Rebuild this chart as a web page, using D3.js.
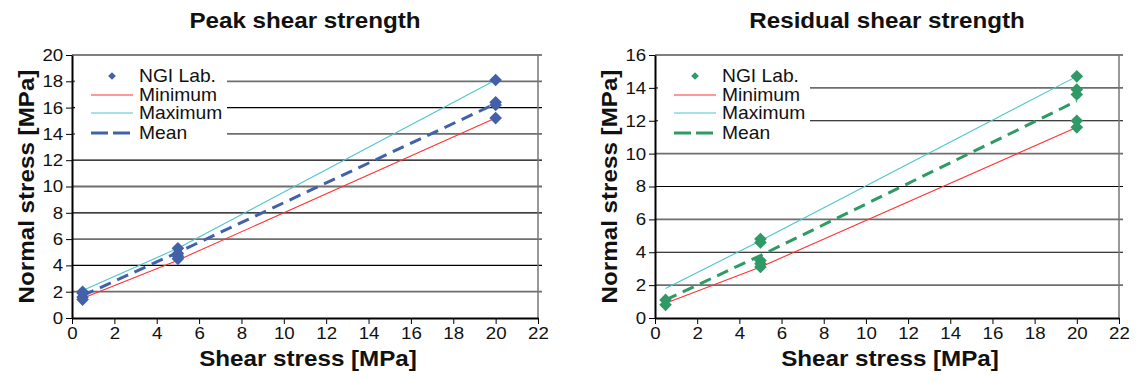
<!DOCTYPE html>
<html>
<head>
<meta charset="utf-8">
<script src="https://cdn.jsdelivr.net/npm/d3@7"></script>
<style>
  body { margin: 0; background: #fff; }
  svg { display: block; font-family: "Liberation Sans", Arial, Helvetica, sans-serif; }
</style>
</head>
<body>
<div id="chart"></div>
<script>
// Shear stress levels used in the tests
const stressLevels = [0.5, 5, 20];

// Peak shear strength
const peakLabX = [0.5, 0.5, 0.5, 0.5, 5, 5, 5, 5, 20, 20, 20, 20];
const peakLabY = [1.4, 1.6, 1.9, 2.0, 4.5, 4.7, 4.9, 5.3, 15.2, 16.2, 16.4, 18.1];
const peakMin = [1.5, 4.4, 15.2];
const peakMax = [2.1, 5.3, 18.1];
const peakMean = [1.7, 5.0, 16.3];

// Residual shear strength
const resLabX = [0.5, 0.5, 5, 5, 5, 5, 5, 20, 20, 20, 20, 20];
const resLabY = [0.8, 1.1, 3.1, 3.3, 3.5, 4.6, 4.8, 11.6, 12.0, 13.6, 13.9, 14.7];
const resMin = [0.9, 3.1, 11.6];
const resMax = [1.8, 4.7, 14.7];
const resMean = [1.1, 3.8, 13.2];

// Tick labels
const xTickValues = [0, 2, 4, 6, 8, 10, 12, 14, 16, 18, 20, 22];
const peakYTicks = [0, 2, 4, 6, 8, 10, 12, 14, 16, 18, 20];
const resYTicks = [0, 2, 4, 6, 8, 10, 12, 14, 16];

const legendLabels = ["NGI Lab.", "Minimum", "Maximum", "Mean"];

const W = 1140, H = 381;
const svg = d3.select("#chart").append("svg")
    .attr("width", W).attr("height", H)
    .attr("viewBox", `0 0 ${W} ${H}`);

// the source lettering is a bit wider than Arial
const wide = "scale(1.1,1)";

// square diamond like the spreadsheet marker
const diamond = {
    draw(ctx, size) {
        const r = Math.sqrt(size / 2);
        ctx.moveTo(0, -r); ctx.lineTo(r, 0); ctx.lineTo(0, r); ctx.lineTo(-r, 0); ctx.closePath();
    }
};

function panel(cfg) {
    const x = d3.scaleLinear().domain([0, 22]).range([cfg.left, cfg.right]);
    const y = d3.scaleLinear().domain([0, cfg.yMax]).range([318, 55]);
    const g = svg.append("g");

    // gridlines
    g.append("g").selectAll("line")
        .data(cfg.yTicks.filter(d => d > 0))
        .join("line")
        .attr("x1", cfg.left).attr("x2", cfg.right + 4)
        .attr("y1", d => y(d)).attr("y2", d => y(d))
        .attr("stroke", (d, i) => i % 2 ? "#000" : "#6e6e6e")
        .attr("stroke-width", (d, i) => i % 2 ? 1.2 : 1.8);

    // right border
    g.append("line")
        .attr("x1", cfg.right).attr("x2", cfg.right)
        .attr("y1", y(cfg.yMax)).attr("y2", y(0))
        .attr("stroke", "#777").attr("stroke-width", 1.5);

    // axes
    const xAxis = g.append("g")
        .attr("transform", `translate(0,${y(0)})`)
        .call(d3.axisBottom(x).tickValues(xTickValues).tickSize(6).tickSizeOuter(0).tickPadding(3));
    const yAxis = g.append("g")
        .attr("transform", `translate(${cfg.left},0)`)
        .call(d3.axisLeft(y).tickValues(cfg.yTicks).tickSize(6).tickSizeOuter(0).tickPadding(2));
    [xAxis, yAxis].forEach(a => {
        a.select(".domain").attr("stroke", "#000").attr("stroke-width", 2);
        a.selectAll(".tick line").attr("stroke", "#000");
        a.selectAll(".tick text").attr("font-size", 17).attr("fill", "#111")
            .attr("transform", wide)
            .attr("font-family", "'Liberation Sans', Arial, sans-serif");
    });

    // lines
    const line = d3.line().x((d, i) => x(stressLevels[i])).y(d => y(d));
    g.append("path").attr("d", line(cfg.min)).attr("fill", "none")
        .attr("stroke", "#ff3333").attr("stroke-width", 1.1);
    g.append("path").attr("d", line(cfg.max)).attr("fill", "none")
        .attr("stroke", "#4cc6cc").attr("stroke-width", 1.1);
    g.append("path").attr("d", line(cfg.mean)).attr("fill", "none")
        .attr("stroke", cfg.color).attr("stroke-width", 3)
        .attr("stroke-dasharray", "12,7");

    // lab points
    g.append("g").selectAll("path")
        .data(cfg.labX.map((d, i) => [d, cfg.labY[i]]))
        .join("path")
        .attr("transform", d => `translate(${x(d[0])},${y(d[1])})`)
        .attr("d", d3.symbol(diamond, 80))
        .attr("fill", cfg.color);

    // legend
    const lg = g.append("g").attr("transform", `translate(${cfg.left + 3},58)`);
    lg.append("rect").attr("width", 152).attr("height", 88).attr("fill", "#fff");
    const rowY = [18, 37, 55, 75];
    legendLabels.forEach((lab, i) => {
        const ry = rowY[i];
        if (i === 0) {
            lg.append("path").attr("transform", `translate(37,${ry})`)
                .attr("d", d3.symbol(diamond, 30)).attr("fill", cfg.color);
        } else {
            lg.append("line").attr("x1", 16).attr("x2", 58).attr("y1", ry).attr("y2", ry)
                .attr("stroke", i === 1 ? "#ff3333" : i === 2 ? "#4cc6cc" : cfg.color)
                .attr("stroke-width", i === 3 ? 3 : 1.1)
                .attr("stroke-dasharray", i === 3 ? "17,5" : null);
        }
        lg.append("text").attr("transform", `translate(64,${ry + 6}) ${wide}`)
            .attr("font-size", 17.5).attr("fill", "#111").text(lab);
    });

    // titles
    const cx = (cfg.left + cfg.right) / 2;
    svg.append("text").attr("transform", `translate(${cx},28) ${wide}`).attr("text-anchor", "middle")
        .attr("font-size", 22).attr("font-weight", "bold").attr("fill", "#111").text(cfg.title);
    svg.append("text").attr("transform", `translate(${cx + 3},366) ${wide}`).attr("text-anchor", "middle")
        .attr("font-size", 22).attr("font-weight", "bold").attr("fill", "#111").text("Shear stress [MPa]");
    svg.append("text")
        .attr("transform", `translate(${cfg.left - 38},${(55 + 318) / 2}) rotate(-90) ${wide}`)
        .attr("text-anchor", "middle")
        .attr("font-size", 22).attr("font-weight", "bold").attr("fill", "#111").text("Normal stress [MPa]");
}

panel({
    title: "Peak shear strength", left: 72, right: 538, yMax: 20, yTicks: peakYTicks,
    labX: peakLabX, labY: peakLabY, min: peakMin, max: peakMax, mean: peakMean, color: "#4361a9"
});
panel({
    title: "Residual shear strength", left: 655, right: 1119, yMax: 16, yTicks: resYTicks,
    labX: resLabX, labY: resLabY, min: resMin, max: resMax, mean: resMean, color: "#2f9a66"
});
</script>
</body>
</html>
